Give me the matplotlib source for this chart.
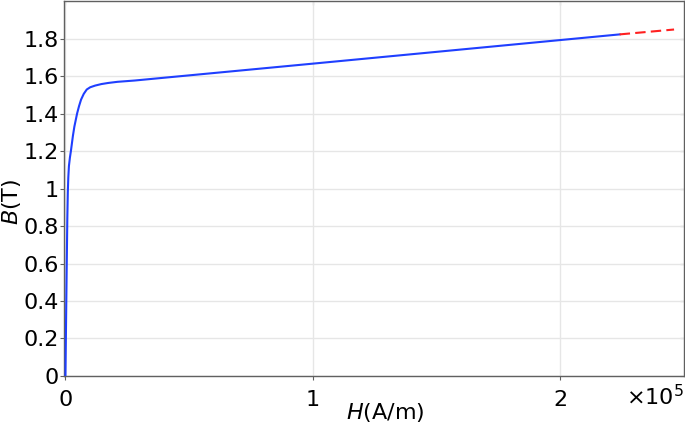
import matplotlib
matplotlib.use("Agg")
import matplotlib.pyplot as plt

# B-H curve (H in A/m, B in T)
H_meas = [0, 250, 500, 750, 950, 1150, 1400, 1800, 2200, 3000, 3600, 4700, 5500,
          6300, 7400, 8600, 10000, 12000, 14500, 17300, 21000, 28000, 100000,
          224000]
B_meas = [0, 0.30, 0.58, 0.84, 0.98, 1.06, 1.12, 1.165, 1.20, 1.28, 1.33, 1.40,
          1.44, 1.474, 1.505, 1.528, 1.540, 1.549, 1.557, 1.563, 1.569, 1.576,
          1.666, 1.822]

# extrapolated part (dashed)
H_ext = [224000, 246000]
B_ext = [1.822, 1.848]

x_ticks = [0, 1e5, 2e5]
x_ticklabels = ["0", "1", "2"]
y_ticks = [0, 0.2, 0.4, 0.6, 0.8, 1.0, 1.2, 1.4, 1.6, 1.8]
y_ticklabels = ["0", "0.2", "0.4", "0.6", "0.8", "1", "1.2", "1.4", "1.6", "1.8"]

fs = 16
fig = plt.figure(figsize=(6.85, 4.25), dpi=100)
ax = fig.add_subplot(111)
fig.subplots_adjust(left=0.0934, right=0.9985, bottom=0.1153, top=0.9976)

ax.plot(H_meas, B_meas, color="#1f3fff", lw=1.5, zorder=3)
ax.plot(H_ext, B_ext, color="#ff2020", lw=1.5, ls=(0, (5, 2.5)), zorder=3)

ax.set_xlim(-600, 2.50e5)
ax.set_ylim(0, 2.0)
ax.set_xticks(x_ticks)
ax.set_xticklabels(x_ticklabels)
ax.set_yticks(y_ticks)
ax.set_yticklabels(y_ticklabels)

ax.grid(True, color="#e6e6e6", lw=1.0)
ax.set_axisbelow(True)
for s in ax.spines.values():
    s.set_color("#606060")
    s.set_linewidth(1.0)
ax.tick_params(direction="out", length=3, width=0.8, color="#606060",
               labelsize=fs, pad=1)
ax.tick_params(axis="x", pad=7)

# inward ticks on top and right, no labels
top = ax.secondary_xaxis("top")
top.set_xticks(x_ticks)
top.tick_params(direction="in", length=3, width=0.8, color="#606060",
                labeltop=False)
right = ax.secondary_yaxis("right")
right.set_yticks(y_ticks)
right.tick_params(direction="in", length=3, width=0.8, color="#606060",
                  labelright=False)
top.spines["top"].set_visible(False)
right.spines["right"].set_visible(False)

ax.set_xlabel(r"$H$(A/m)", fontsize=fs)
ax.set_ylabel(r"$B$(T)", fontsize=fs)
ax.xaxis.set_label_coords(0.519, -0.068)
ax.yaxis.set_label_coords(-0.066, 0.464)

ax.text(1.0, -0.022, r"$\times10^5$", transform=ax.transAxes, ha="right",
        va="top", fontsize=fs)

fig.savefig("out.png", dpi=100)
